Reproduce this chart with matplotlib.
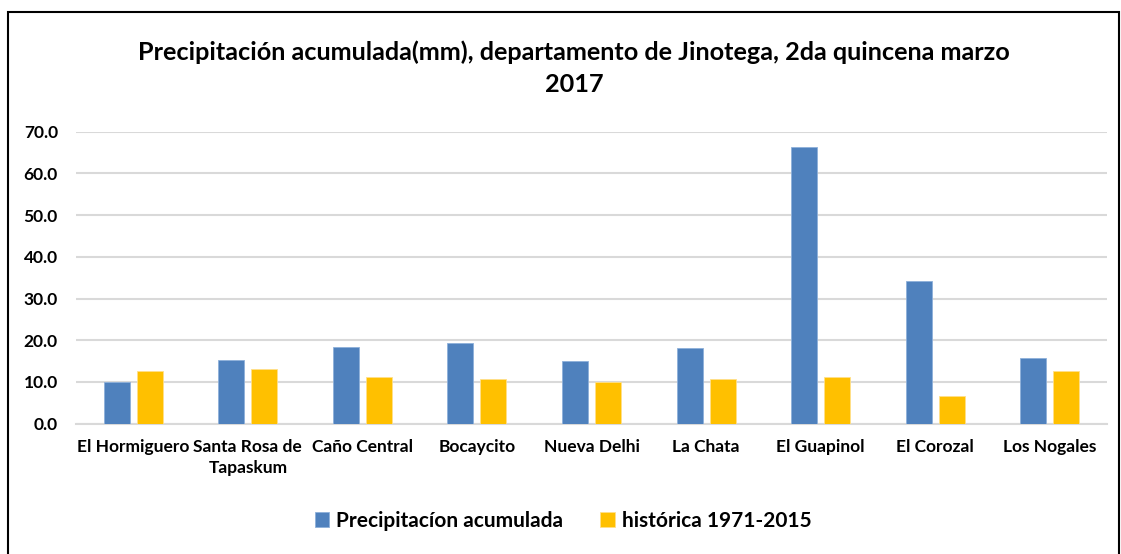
import matplotlib
matplotlib.use("Agg")
import matplotlib.pyplot as plt
import numpy as np
from matplotlib.patches import Rectangle

categories = ["El Hormiguero", "Santa Rosa de\nTapaskum", "Caño Central", "Bocaycito",
              "Nueva Delhi", "La Chata", "El Guapinol", "El Corozal", "Los Nogales"]
precip = [10.0, 15.2, 18.5, 19.3, 15.0, 18.1, 66.4, 34.2, 15.7]
historica = [12.6, 13.1, 11.3, 10.6, 10.1, 10.6, 11.1, 6.7, 12.6]
series_names = ["Precipitacíon acumulada", "histórica 1971-2015"]
yticks = [0, 10, 20, 30, 40, 50, 60, 70]
title = "Precipitación acumulada(mm), departamento de Jinotega, 2da quincena marzo\n2017"

plt.rcParams['font.family'] = ['Lato', 'DejaVu Sans']
plt.rcParams['font.weight'] = 'bold'

W, H = 1121, 554
fig = plt.figure(figsize=(W / 100, H / 100), dpi=100)
ax = fig.add_axes([76 / W, 1 - 423.7 / H, (1107 - 76) / W, (423.7 - 131.7) / H])

x = np.arange(len(categories))
bw = 0.227
off = 0.144
ax.bar(x - off, precip, bw, color="#4F81BD", edgecolor="#8EB0DA", linewidth=0.6,
       label=series_names[0], zorder=3)
ax.bar(x + off, historica, bw, color="#FFC000", edgecolor="#FFE08A", linewidth=0.6,
       label=series_names[1], zorder=3)

ax.set_xlim(-0.5, len(categories) - 0.5)
ax.set_ylim(0, 70)
ax.set_yticks(yticks)
ax.set_yticklabels([f"{v:.1f}" for v in yticks], fontsize=12.5, fontweight='bold')
ax.set_xticks(x)
ax.set_xticklabels(categories, fontsize=12.5, fontweight='bold', linespacing=1.4)
ax.tick_params(axis='y', length=0, pad=13)
ax.tick_params(axis='x', length=0, pad=11)
ax.yaxis.grid(True, color="#D9D9D9", linewidth=1.5, zorder=0)
ax.set_axisbelow(True)
for s in ["top", "right", "left"]:
    ax.spines[s].set_visible(False)
ax.spines["bottom"].set_color("#D9D9D9")
ax.spines["bottom"].set_linewidth(1.5)

fig.text(574 / W, 1 - 68.5 / H, title, ha='center', va='center', fontsize=18.15,
         fontweight='bold', linespacing=1.47)

leg = fig.legend(loc='center', bbox_to_anchor=(563 / W, 1 - 521 / H), ncol=2,
                 frameon=False, prop={'size': 15, 'weight': 'bold'},
                 handlelength=0.7, handleheight=0.7, handletextpad=0.35, columnspacing=1.75)

fig.patches.append(Rectangle((8 / W, -2 / H), (1119 - 8) / W, (H - 12 + 2) / H,
                             transform=fig.transFigure, fill=False, edgecolor='black',
                             linewidth=1.5))

fig.savefig("out.png", dpi=100)
